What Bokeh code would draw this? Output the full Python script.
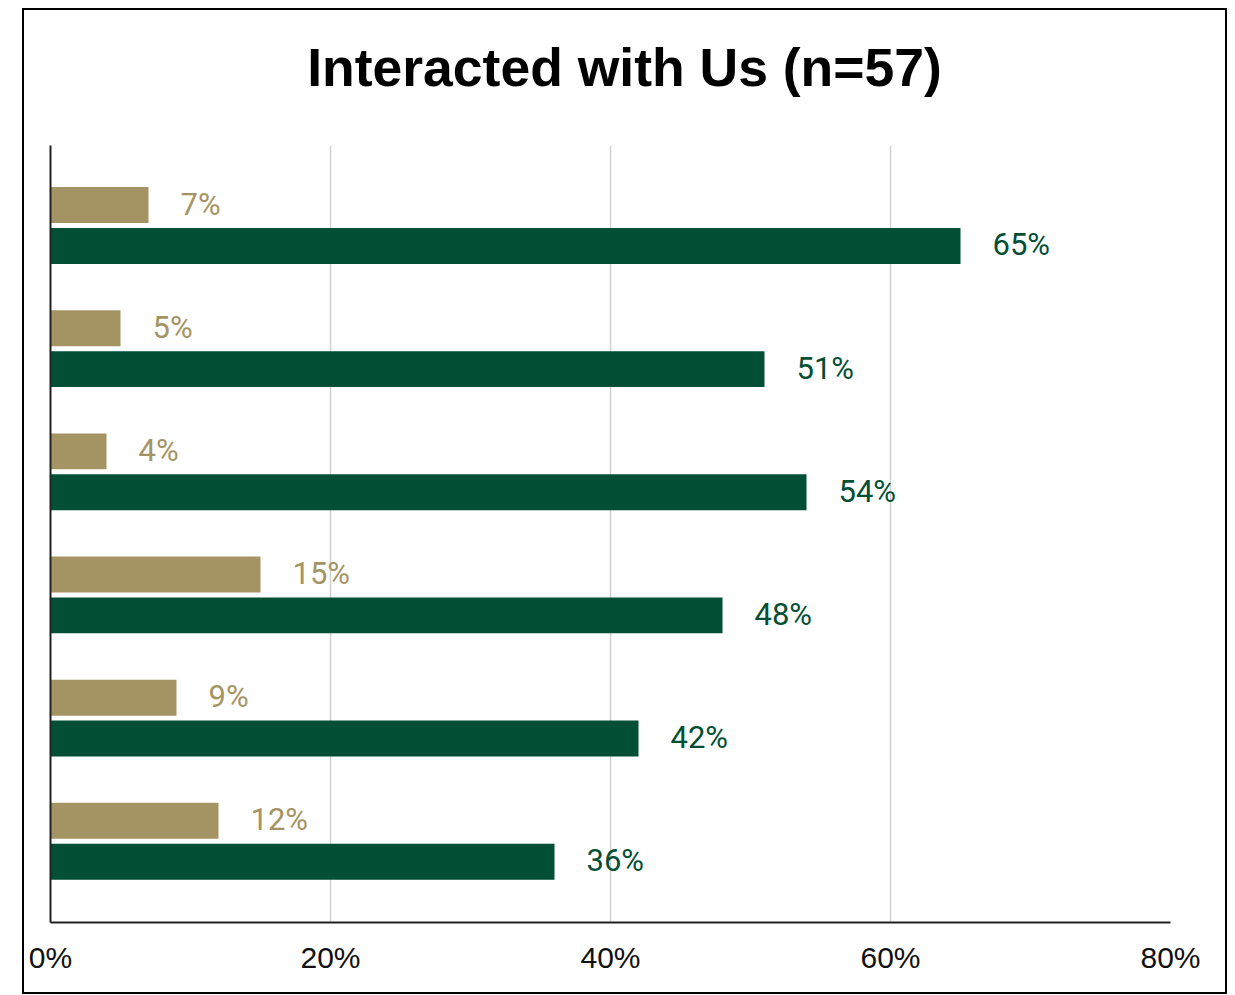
from bokeh.plotting import figure
from bokeh.models import Range1d, FixedTicker, ColumnDataSource, LabelSet, Div
from bokeh.layouts import column
from bokeh.core.properties import value
from bokeh.embed import file_html
from bokeh.resources import INLINE

title_text = "Interacted with Us (n=57)"
rows = [0, 1, 2, 3, 4, 5]
tan_values = [7, 5, 4, 15, 9, 12]
green_values = [65, 51, 54, 48, 42, 36]
x_ticks = [0, 20, 40, 60, 80]
x_tick_labels = ["0%", "20%", "40%", "60%", "80%"]

TAN = "#A59463"
GREEN = "#024F35"

title = Div(text=title_text, width=1201, height=135, margin=0,
            styles={"font-family": "Liberation Sans", "font-size": "53.5px", "font-weight": "bold",
                    "color": "black", "text-align": "center", "line-height": "1",
                    "padding-top": "31px", "box-sizing": "border-box"})

p = figure(frame_width=1120, frame_height=777, output_backend="svg", toolbar_location=None,
           x_range=Range1d(0, 80), y_range=Range1d(5.66, -0.65),
           min_border_left=26, min_border_right=55, min_border_top=0, min_border_bottom=70)

offset = 0.166
bar_h = 0.292
src = ColumnDataSource(dict(
    y_tan=[r - offset for r in rows],
    y_green=[r + offset for r in rows],
    tan=tan_values,
    green=green_values,
    tan_lbl=[f"{v}%" for v in tan_values],
    green_lbl=[f"{v}%" for v in green_values],
))

p.hbar(y="y_tan", right="tan", left=0, height=bar_h, source=src, fill_color=TAN, line_color=None)
p.hbar(y="y_green", right="green", left=0, height=bar_h, source=src, fill_color=GREEN, line_color=None)

p.add_layout(LabelSet(x="tan", y="y_tan", text="tan_lbl", source=src, x_offset=32, y_offset=1,
                      text_align="left", text_baseline="middle", text_color=TAN,
                      text_font=value("Roboto"), text_font_size="31px"))
p.add_layout(LabelSet(x="green", y="y_green", text="green_lbl", source=src, x_offset=32, y_offset=1,
                      text_align="left", text_baseline="middle", text_color=GREEN,
                      text_font=value("Roboto"), text_font_size="31px"))

p.outline_line_color = None
p.ygrid.grid_line_color = None
p.xgrid.grid_line_color = "#d0d0d0"
p.xgrid.grid_line_width = 1.5
p.xgrid.ticker = FixedTicker(ticks=[20, 40, 60, 80])

p.xaxis.ticker = FixedTicker(ticks=x_ticks)
p.xaxis.major_label_overrides = {t: l for t, l in zip(x_ticks, x_tick_labels)}
p.xaxis.major_tick_line_color = None
p.xaxis.minor_tick_line_color = None
p.xaxis.axis_line_color = "#222222"
p.xaxis.axis_line_width = 2
p.xaxis.major_label_text_font = "Liberation Sans"
p.xaxis.major_label_text_font_size = "30px"
p.xaxis.major_label_text_color = "#111111"
p.xaxis.major_label_standoff = 12

p.yaxis.ticker = FixedTicker(ticks=[])
p.yaxis.major_tick_line_color = None
p.yaxis.minor_tick_line_color = None
p.yaxis.axis_line_color = "#222222"
p.yaxis.axis_line_width = 2

layout = column(title, p, margin=(8, 0, 0, 22), spacing=0,
                styles={"border": "2px solid black"})

open("out.html", "w").write(file_html(layout, INLINE))
